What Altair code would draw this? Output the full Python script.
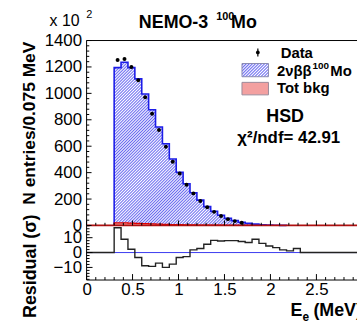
import altair as alt
import pandas as pd

# ---------------- values ----------------
E_START = 0.3          # MeV, first bin low edge
BIN_W = 0.075          # MeV
mc_2nbb = [1195, 1235, 1195, 1110, 995, 876, 746, 619, 503, 403, 316, 248, 192,
           143, 107, 77, 54, 37, 25, 16, 10, 6, 4, 2, 1]
tot_bkg = [20, 20, 18, 16, 14, 12, 10, 8, 7, 6, 5, 4, 3, 3, 2, 2, 1, 1, 1, 1,
           0, 0, 0, 0, 0]
data_counts = [1253, 1260, 1200, 1100, 970, 845, 722, 596, 483, 393, 308, 243,
               185, 138, 103, 72, 48, 33, 20]
residual_sigma = [16.7, 8.9, 2.2, -3.3, -8.9, -9.3, -7.1, -10.0, -7.8, -3.3, -2.7,
                  1.8, 2.7, 5.6, 8.2, 7.8, 8.0, 8.0, 7.4, 6.8, 8.9, 6.2, 4.4, 3.3,
                  1.8, 1.1, 2.7]
y_labels = [0, 200, 400, 600, 800, 1000, 1200, 1400]
res_labels = [-10, 0, 10]
x_labels = [0, 0.5, 1, 1.5, 2, 2.5]

# ---------------- layout / style ----------------
FONT = "Liberation Sans"
W = 360
H_TOP = 226
H_BOT = 100
X0 = 87.3                      # pixel of E = 0
PXM = 92.7                     # px per MeV
XMIN = -X0 / PXM
XMAX = (W - X0) / PXM
PXC = (H_TOP - 39.5) / 1400.0  # px per count
YMAX = H_TOP / PXC
RES_ZERO = 27.3                # px from top of residual panel
PXS = 1.5                      # px per sigma
RMAX = RES_ZERO / PXS
RMIN = -(H_BOT - RES_ZERO) / PXS
RFRAME = -(55 - RES_ZERO) / PXS
BLUE = "#1c1ce8"
HATCH = "#6a6af0"
RED = "#e00000"

ONE = pd.DataFrame({"k": [0]})


def hatch(w_px, h_px, period_px, color):
    r = h_px / w_px
    a = (1 + r) / (1 + r * r)
    b = a * r
    n = max(1, int(round(w_px * (1 + r) / period_px)))
    stops = []
    for k in range(n):
        stops.append(alt.GradientStop(color="white", offset=k / n))
        stops.append(alt.GradientStop(color=color, offset=(k + 0.5) / n))
    stops.append(alt.GradientStop(color="white", offset=1))
    return alt.LinearGradient(gradient="linear", stops=stops, x1=0, y1=0, x2=a, y2=b)


def edges(n):
    return [round(E_START + i * BIN_W, 4) for i in range(n + 1)]


xs = alt.Scale(domain=[XMIN, XMAX], nice=False, zero=False)
ys_top = alt.Scale(domain=[0, YMAX], nice=False, zero=False)
ys_bot = alt.Scale(domain=[RMIN, RMAX], nice=False, zero=False)

common_axis = dict(domain=False, ticks=False, tickSize=0, grid=False, labelFontSize=17,
                   labelFont=FONT, labelColor="black", title=None, labelFlush=False,
                   labelOverlap=False)
yaxis_top = alt.Axis(values=y_labels, orient="left", offset=-X0, labelPadding=5, format="d",
                     **common_axis)
yaxis_bot = alt.Axis(values=res_labels, orient="left", offset=-X0, labelPadding=5, format="d",
                     **common_axis)
xaxis_bot = alt.Axis(values=x_labels, orient="bottom", offset=-(H_BOT - 55), labelPadding=2,
                     format="~g", **common_axis)


def XT(f):
    return alt.X(f, type="quantitative", scale=xs, axis=None)


def XTd(d):
    return alt.XDatum(datum=d, type="quantitative", scale=xs, axis=None)


def YT(f):
    return alt.Y(f, type="quantitative", scale=ys_top, axis=yaxis_top)


def YTd(d):
    return alt.YDatum(datum=d, type="quantitative", scale=ys_top, axis=yaxis_top)


def XB(f):
    return alt.X(f, type="quantitative", scale=xs, axis=xaxis_bot)


def XBd(d):
    return alt.XDatum(datum=d, type="quantitative", scale=xs, axis=xaxis_bot)


def YB(f):
    return alt.Y(f, type="quantitative", scale=ys_bot, axis=yaxis_bot)


def YBd(d):
    return alt.YDatum(datum=d, type="quantitative", scale=ys_bot, axis=yaxis_bot)


def txt(s, x, y, size, bold=True, align="left", angle=0, baseline="alphabetic", clip=False):
    return alt.Chart(ONE).mark_text(
        text=s, fontSize=size, font=FONT, fontWeight="bold" if bold else "normal",
        align=align, baseline=baseline, angle=angle, color="black", clip=clip
    ).encode(x=alt.value(x), y=alt.value(y))


# ---------------- top panel ----------------
e_mc = edges(len(mc_2nbb))
mc_area = pd.DataFrame({"E": e_mc, "N": mc_2nbb + [0]})
mc_line = pd.DataFrame({"E": [e_mc[0]] + e_mc, "N": [0] + mc_2nbb + [0],
                        "i": list(range(len(e_mc) + 1))})
e_bk = edges(len(tot_bkg))
bk_area = pd.DataFrame({"E": e_bk, "N": tot_bkg + [0]})
bk_line = pd.DataFrame({"E": [e_bk[0]] + e_bk, "N": [0] + tot_bkg + [0],
                        "i": list(range(len(e_bk) + 1))})
pts = pd.DataFrame({"E": [E_START + (i + 0.5) * BIN_W for i in range(len(data_counts))],
                    "N": data_counts})

area_w = (e_mc[-1] - e_mc[0]) * PXM
area_h = max(mc_2nbb) * PXC

mc_fill = alt.Chart(mc_area).mark_area(interpolate="step-after", fill=hatch(area_w, area_h, 3.0, HATCH),
                                      strokeWidth=0).encode(x=XT("E"), y=YT("N"))
bk_fill = alt.Chart(bk_area).mark_area(interpolate="step-after", fill="#f39a9a",
                                      strokeWidth=0).encode(x=XT("E"), y=YT("N"))
mc_out = alt.Chart(mc_line).mark_line(interpolate="step-after", color=BLUE, strokeWidth=1.6).encode(
    x=XT("E"), y=YT("N"), order=alt.Order("i:Q"))
bk_out = alt.Chart(bk_line).mark_line(interpolate="step-after", color=RED, strokeWidth=1.2).encode(
    x=XT("E"), y=YT("N"), order=alt.Order("i:Q"))
zero_red = alt.Chart(ONE).mark_rule(color="#b01010", strokeWidth=1.8).encode(
    x=XTd(0), x2=alt.datum(XMAX), y=YTd(0))
dots = alt.Chart(pts).mark_circle(size=16, color="black", opacity=1).encode(x=XT("E"), y=YT("N"))

left_line = alt.Chart(ONE).mark_rule(color="black", strokeWidth=1).encode(
    x=XTd(0), y=YTd(0), y2=alt.datum(1400))
top_line = alt.Chart(ONE).mark_rule(color="black", strokeWidth=1).encode(
    x=XTd(0), x2=alt.datum(XMAX), y=YTd(1400))

xt_major = pd.DataFrame({"v": x_labels})
xt_minor = pd.DataFrame({"v": [k / 10 for k in range(1, 30) if k % 5 != 0]})
yt_major = pd.DataFrame({"v": y_labels})
yt_minor = pd.DataFrame({"v": [k * 40 for k in range(1, 36) if k % 5 != 0]})

top_ticks = [
    alt.Chart(xt_major).mark_rule(color="black").encode(x=XT("v"), y=YTd(0), y2=alt.datum(5 / PXC)),
    alt.Chart(xt_minor).mark_rule(color="black").encode(x=XT("v"), y=YTd(0), y2=alt.datum(2.7 / PXC)),
    alt.Chart(yt_major).mark_rule(color="black").encode(y=YT("v"), x=XTd(0), x2=alt.datum(5 / PXM)),
    alt.Chart(yt_minor).mark_rule(color="black").encode(y=YT("v"), x=XTd(0), x2=alt.datum(2.7 / PXM)),
]

legend = [
    alt.Chart(ONE).mark_rule(color="black", strokeWidth=1.2).encode(
        x=alt.value(260), y=alt.value(47.5), y2=alt.value(55.5)),
    alt.Chart(ONE).mark_circle(size=14, color="black", opacity=1).encode(
        x=alt.value(260), y=alt.value(51.5)),
    alt.Chart(ONE).mark_rect(fill=hatch(26.7, 13.3, 3.0, HATCH), stroke="#8a8ab0", strokeWidth=1).encode(
        x=alt.value(244), x2=alt.value(270.7), y=alt.value(62.7), y2=alt.value(76)),
    alt.Chart(ONE).mark_rect(fill="#f3a0a0", stroke="#9a8a9a", strokeWidth=1).encode(
        x=alt.value(244), x2=alt.value(270.7), y=alt.value(81.7), y2=alt.value(94.3)),
    txt("Data", 283, 57, 15),
    txt("2νββ", 279.3, 75, 15),
    txt("100", 315, 68, 10),
    txt("Mo", 333, 75, 15, clip=True),
    txt("Tot bkg", 279.3, 92, 15),
    txt("HSD", 287.5, 121.7, 18, align="center"),
    txt("χ²/ndf= 42.91", 343, 143, 17, align="right"),
]

titles_top = [
    txt("x 10", 50, 25, 16, bold=False),
    txt("2", 87, 17, 11, bold=False),
    txt("NEMO-3", 140, 27, 18),
    txt("100", 218, 19, 11),
    txt("Mo", 233, 27, 18),
    txt("N entries/0.075 MeV", 30.5, 40.7, 17.5, align="right", angle=270, baseline="middle"),
]

top = alt.layer(mc_fill, bk_fill, mc_out, bk_out, zero_red, dots, left_line, top_line,
                *top_ticks, *legend, *titles_top).properties(width=W, height=H_TOP)

# ---------------- residual panel ----------------
e_res = edges(len(residual_sigma))
res_df = pd.DataFrame({"E": [0.0] + e_res + [XMAX],
                       "R": [0.0] + residual_sigma + [0.0, 0.0],
                       "i": list(range(len(e_res) + 2))})

blue_zero = alt.Chart(ONE).mark_rule(color="#3b3bf0", strokeWidth=1).encode(
    x=XBd(0), x2=alt.datum(XMAX), y=YBd(0))
res_line = alt.Chart(res_df).mark_line(interpolate="step-after", color="#222222", strokeWidth=1.4).encode(
    x=XB("E"), y=YB("R"), order=alt.Order("i:Q"))
b_left = alt.Chart(ONE).mark_rule(color="black", strokeWidth=1).encode(
    x=XBd(0), y=YBd(RFRAME), y2=alt.datum(RMAX))
b_bottom = alt.Chart(ONE).mark_rule(color="black", strokeWidth=1).encode(
    x=XBd(0), x2=alt.datum(XMAX), y=YBd(RFRAME))

rt_major = pd.DataFrame({"v": res_labels})
rt_minor = pd.DataFrame({"v": [k * 2 for k in range(-9, 10) if k * 2 not in (-10, 0, 10)]})
bot_ticks = [
    alt.Chart(xt_major).mark_rule(color="black").encode(
        x=XB("v"), y=YBd(RFRAME), y2=alt.datum(RFRAME + 6 / PXS)),
    alt.Chart(xt_minor).mark_rule(color="black").encode(
        x=XB("v"), y=YBd(RFRAME), y2=alt.datum(RFRAME + 3 / PXS)),
    alt.Chart(rt_major).mark_rule(color="black").encode(
        y=YB("v"), x=XBd(0), x2=alt.datum(6 / PXM)),
    alt.Chart(rt_minor).mark_rule(color="black").encode(
        y=YB("v"), x=XBd(0), x2=alt.datum(3 / PXM)),
]

titles_bot = [
    txt("Residual (σ)", 31, 215 - H_TOP, 18, align="right", angle=270, baseline="middle"),
    txt("E", 293, 317 - H_TOP, 18),
    txt("e", 305, 322 - H_TOP, 12),
    txt("(MeV)", 316, 317 - H_TOP, 18, clip=True),
]

bot = alt.layer(blue_zero, res_line, b_left, b_bottom, *bot_ticks, *titles_bot).properties(
    width=W, height=H_BOT)

chart = alt.vconcat(top, bot, spacing=0, bounds="flush", padding=0).configure_view(stroke=None)

chart.save("out.html", embed_options={"renderer": "svg", "actions": False})
